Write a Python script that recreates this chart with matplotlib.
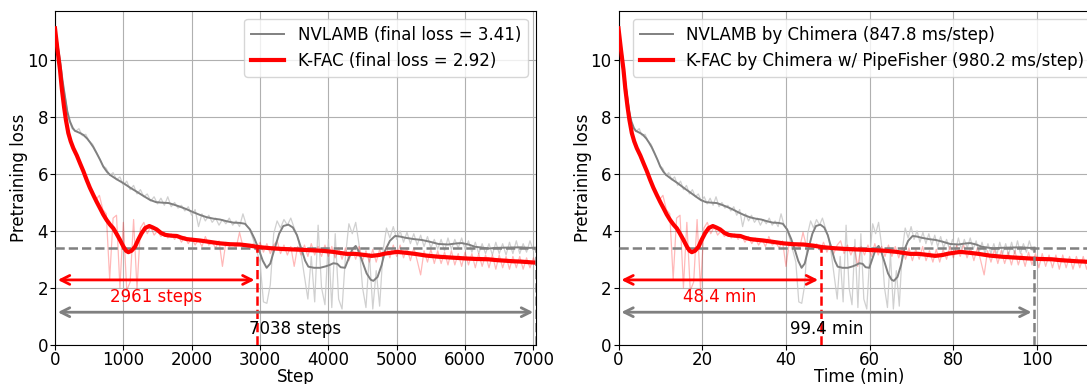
import numpy as np
import matplotlib
matplotlib.use("Agg")
import matplotlib.pyplot as plt

# ---------------- data ----------------
RAW_INTERVAL = 50  # steps between raw log samples
nvlamb_raw = [
    11.1, 10.3, 9.4, 8.7, 7.95, 7.6, 7.5, 7.6, 7.35, 7.4, 7.15, 7.05, 6.8, 6.55, 6.3,
    6.2, 5.95, 6.05, 5.8, 5.9, 5.6, 5.75, 5.45, 5.6, 5.3, 5.45, 5.2, 5.3, 5.05, 5.2,
    4.95, 5.15, 4.9, 5.2, 4.85, 5.0, 4.8, 4.9, 4.7, 4.85, 4.55, 4.75, 4.15, 4.6, 4.35,
    4.55, 4.3, 4.45, 4.2, 4.4, 4.25, 4.45, 4.2, 4.35, 4.15, 4.6, 4.2, 4.05, 3.7, 3.3,
    2.9, 1.5, 1.45, 2.1, 3.9, 4.35, 4.1, 4.4, 4.2, 4.45, 4.1, 3.8, 3.2, 2.4, 1.6,
    3.1, 1.5, 4.2, 2.0, 1.4, 3.7, 1.3, 3.9, 1.6, 1.25, 3.1, 4.25, 3.9, 4.3, 3.5,
    2.0, 1.3, 3.2, 1.25, 2.6, 1.35, 3.3, 4.1, 3.75, 4.15, 3.7, 4.0, 3.6, 3.95, 3.55,
    3.9, 3.5, 3.85, 3.45, 3.8, 3.4, 3.7, 3.35, 3.7, 3.3, 3.75, 3.35, 3.7, 3.4, 3.75,
    3.35, 3.65, 3.25, 3.6, 3.2, 3.55, 3.2, 3.55, 3.15, 3.6, 3.2, 3.55, 3.15, 3.6, 3.2,
    3.65, 3.2, 3.55, 3.25, 3.65, 3.3,
]
kfac_raw = [
    11.1, 10.0, 8.9, 8.0, 7.3, 7.0, 6.7, 6.45, 6.15, 5.9, 5.6, 5.3, 5.1, 5.25, 4.75,
    4.6, 2.3, 4.45, 4.55, 2.0, 4.3, 1.9, 2.2, 4.4, 1.95, 4.1, 4.3, 3.9, 4.15, 3.85,
    4.0, 3.8, 3.95, 3.75, 3.9, 3.7, 3.85, 3.6, 3.8, 3.55, 3.75, 3.5, 3.7, 3.45, 3.8,
    3.5, 3.6, 3.4, 3.65, 2.75, 3.6, 3.45, 3.55, 3.4, 3.95, 3.45, 3.5, 3.35, 3.55, 3.3,
    3.6, 3.25, 3.55, 3.2, 3.5, 3.65, 3.2, 3.5, 3.15, 3.45, 2.75, 3.45, 3.15, 3.5, 3.1,
    3.55, 3.15, 3.45, 3.1, 3.5, 3.1, 3.45, 3.05, 3.4, 3.0, 3.4, 2.95, 3.35, 3.0, 3.45,
    2.95, 3.3, 2.9, 3.35, 2.9, 3.35, 3.0, 3.45, 3.05, 3.5, 3.1, 3.5, 3.05, 3.4, 2.95,
    3.4, 2.95, 2.45, 3.3, 2.9, 3.35, 2.85, 3.3, 2.85, 3.25, 2.8, 3.3, 2.8, 3.2, 2.75,
    3.25, 2.8, 3.2, 2.7, 3.2, 2.75, 3.15, 2.7, 3.15, 2.65, 3.15, 2.7, 3.1, 2.65, 3.1,
    2.7, 3.1, 2.65, 3.05, 2.7, 3.05,
]
raw_end_step = 7038
nvlamb_raw_end = 3.4
kfac_raw_end = 2.85

nvlamb_smooth_step = [0, 40, 73, 110, 146, 180, 219, 260, 293, 360, 414, 470, 512, 560, 610,
                      660, 707, 760, 805, 900, 1000, 1100, 1195, 1300, 1390, 1480, 1585, 1660,
                      1731, 1830, 1927, 2020, 2122, 2220, 2320, 2414, 2510, 2610, 2707, 2780,
                      2853, 2920, 2975, 3040, 3097, 3150, 3210, 3280, 3340, 3414, 3480, 3540,
                      3600, 3660, 3707, 3790, 3878, 3960, 4020, 4072, 4130, 4180, 4243, 4300,
                      4350, 4400, 4440, 4500, 4560, 4620, 4658, 4720, 4780, 4829, 4900, 4975,
                      5050, 5121, 5250, 5366, 5480, 5609, 5750, 5880, 5951, 6050, 6146, 6250,
                      6350, 6438, 6600, 6804, 6950, 7038]
nvlamb_smooth = [11.13, 10.5, 10.0, 9.3, 8.73, 8.2, 7.85, 7.62, 7.52, 7.45, 7.38, 7.25, 7.12,
                 6.95, 6.73, 6.5, 6.26, 6.08, 5.97, 5.82, 5.68, 5.52, 5.38, 5.22, 5.09, 5.01,
                 4.99, 4.98, 4.93, 4.85, 4.76, 4.66, 4.56, 4.48, 4.43, 4.40, 4.34, 4.29, 4.28,
                 4.25, 4.05, 3.72, 3.39, 2.95, 2.70, 2.85, 3.35, 3.9, 4.17, 4.22, 4.12, 3.85,
                 3.4, 2.95, 2.74, 2.70, 2.70, 2.75, 2.80, 2.86, 2.84, 2.72, 2.70, 3.05, 3.35,
                 3.47, 3.3, 2.9, 2.5, 2.28, 2.24, 2.38, 2.8, 3.30, 3.65, 3.82, 3.80, 3.76,
                 3.71, 3.68, 3.62, 3.54, 3.52, 3.56, 3.57, 3.52, 3.44, 3.41, 3.38, 3.40, 3.41,
                 3.42, 3.40, 3.41]

kfac_smooth_step = [0, 35, 73, 100, 132, 160, 195, 230, 268, 320, 366, 415, 464, 510, 561,
                    610, 658, 705, 756, 805, 853, 900, 951, 1000, 1040, 1073, 1120, 1171, 1220,
                    1268, 1320, 1380, 1430, 1488, 1550, 1610, 1700, 1781, 1850, 1927, 2000,
                    2122, 2268, 2414, 2560, 2707, 2850, 2975, 3150, 3341, 3540, 3731, 3900,
                    4072, 4180, 4268, 4390, 4500, 4634, 4740, 4829, 5000, 5130, 5268, 5430,
                    5609, 5800, 6000, 6170, 6340, 6460, 6585, 6700, 6804, 6920, 7038]
kfac_smooth = [11.13, 10.4, 9.67, 9.0, 8.37, 7.9, 7.44, 7.15, 6.91, 6.65, 6.38, 6.1, 5.79,
               5.52, 5.26, 5.02, 4.80, 4.58, 4.38, 4.22, 4.09, 3.9, 3.68, 3.45, 3.3, 3.25,
               3.3, 3.44, 3.7, 3.92, 4.1, 4.17, 4.12, 4.05, 3.93, 3.86, 3.83, 3.82, 3.76,
               3.71, 3.69, 3.66, 3.61, 3.56, 3.53, 3.52, 3.48, 3.43, 3.39, 3.36, 3.34, 3.32,
               3.30, 3.26, 3.22, 3.19, 3.19, 3.16, 3.12, 3.15, 3.20, 3.26, 3.23, 3.19, 3.13,
               3.09, 3.06, 3.03, 3.01, 3.00, 2.97, 2.95, 2.93, 2.92, 2.90, 2.88]

nvlamb_final_loss = 3.41
kfac_final_loss = 2.92
nvlamb_total_steps = 7038
kfac_steps_to_target = 2961
nvlamb_ms_per_step = 847.8
kfac_ms_per_step = 980.2
nvlamb_total_min = 99.4
kfac_min_to_target = 48.4
kfac_total_steps = 7038

# ---------------- derived arrays ----------------
raw_steps = np.append(np.arange(len(nvlamb_raw)) * RAW_INTERVAL, raw_end_step)
nv_raw = np.append(nvlamb_raw, nvlamb_raw_end)
kf_raw = np.append(kfac_raw, kfac_raw_end)
nv_s_step = np.array(nvlamb_smooth_step, dtype=float)
kf_s_step = np.array(kfac_smooth_step, dtype=float)

def to_min(steps, ms):
    return np.asarray(steps, dtype=float) * ms / 60000.0

# ---------------- figure ----------------
plt.rcParams['font.family'] = ['DejaVu Sans']
fig = plt.figure(figsize=(10.87, 3.84), dpi=100)
ax1 = fig.add_axes([55 / 1087, 39.5 / 384, 481 / 1087, 333.8 / 384])
ax2 = fig.add_axes([618.5 / 1087, 39.5 / 384, 481 / 1087, 333.8 / 384])

GRAY = '#808080'
FS = 12

def draw(ax, nv_x_raw, kf_x_raw, nv_x_s, kf_x_s, nv_label, kf_label,
         x_target, x_total, red_text, gray_text, xmax, xlabel):
    ax.plot(nv_x_raw, nv_raw, color='#c8c8c8', lw=0.9, alpha=0.85, zorder=2)
    ax.plot(kf_x_raw, kf_raw, color='red', lw=0.9, alpha=0.28, zorder=2)
    ax.plot(nv_x_s, nvlamb_smooth, color=GRAY, lw=1.4, label=nv_label, zorder=4)
    ax.axhline(nvlamb_final_loss, color=GRAY, ls='--', lw=1.8, zorder=3)
    ax.plot(kf_x_s, kfac_smooth, color='red', lw=3, label=kf_label, zorder=5)
    ax.plot([x_target, x_target], [0, nvlamb_final_loss], color='red', ls='--', lw=1.8, zorder=6)
    ax.plot([x_total, x_total], [0, nvlamb_final_loss], color=GRAY, ls='--', lw=1.8, zorder=6)
    y_red = nvlamb_final_loss * 2 / 3
    y_gray = nvlamb_final_loss / 3
    ax.annotate('', xy=(x_target, y_red), xytext=(0, y_red),
                arrowprops=dict(arrowstyle='<->', color='red', lw=2, mutation_scale=16), zorder=7)
    ax.annotate('', xy=(x_total, y_gray), xytext=(0, y_gray),
                arrowprops=dict(arrowstyle='<->', color=GRAY, lw=2, mutation_scale=16), zorder=7)
    ax.text(x_target / 2, y_red - 0.6, red_text, color='red', ha='center', va='center',
            fontsize=FS, zorder=8)
    ax.text(x_total / 2, y_gray - 0.6, gray_text, color='black', ha='center', va='center',
            fontsize=FS, zorder=8)
    ax.set_xlim(0, xmax)
    ax.set_ylim(0, 11.75)
    ax.grid(True, color='#b0b0b0', lw=0.8)
    ax.set_axisbelow(True)
    ax.tick_params(labelsize=FS, pad=1.5)
    ax.set_xlabel(xlabel, fontsize=FS, labelpad=-1)
    ax.set_ylabel('Pretraining loss', fontsize=FS, labelpad=-1)
    ax.legend(loc='upper right', fontsize=FS)

draw(ax1, raw_steps, raw_steps, nv_s_step, kf_s_step,
     f'NVLAMB (final loss = {nvlamb_final_loss:.2f})',
     f'K-FAC (final loss = {kfac_final_loss:.2f})',
     kfac_steps_to_target, nvlamb_total_steps,
     f'{kfac_steps_to_target} steps', f'{nvlamb_total_steps} steps',
     nvlamb_total_steps, 'Step')
ax1.set_xticks([0, 1000, 2000, 3000, 4000, 5000, 6000, 7000])

draw(ax2, to_min(raw_steps, nvlamb_ms_per_step), to_min(raw_steps, kfac_ms_per_step),
     to_min(nv_s_step, nvlamb_ms_per_step), to_min(kf_s_step, kfac_ms_per_step),
     f'NVLAMB by Chimera ({nvlamb_ms_per_step} ms/step)',
     f'K-FAC by Chimera w/ PipeFisher ({kfac_ms_per_step} ms/step)',
     kfac_min_to_target, nvlamb_total_min,
     f'{kfac_min_to_target} min', f'{nvlamb_total_min} min',
     kfac_total_steps * kfac_ms_per_step / 60000.0, 'Time (min)')
ax2.set_xticks([0, 20, 40, 60, 80, 100])

fig.savefig('out.png', dpi=100)
